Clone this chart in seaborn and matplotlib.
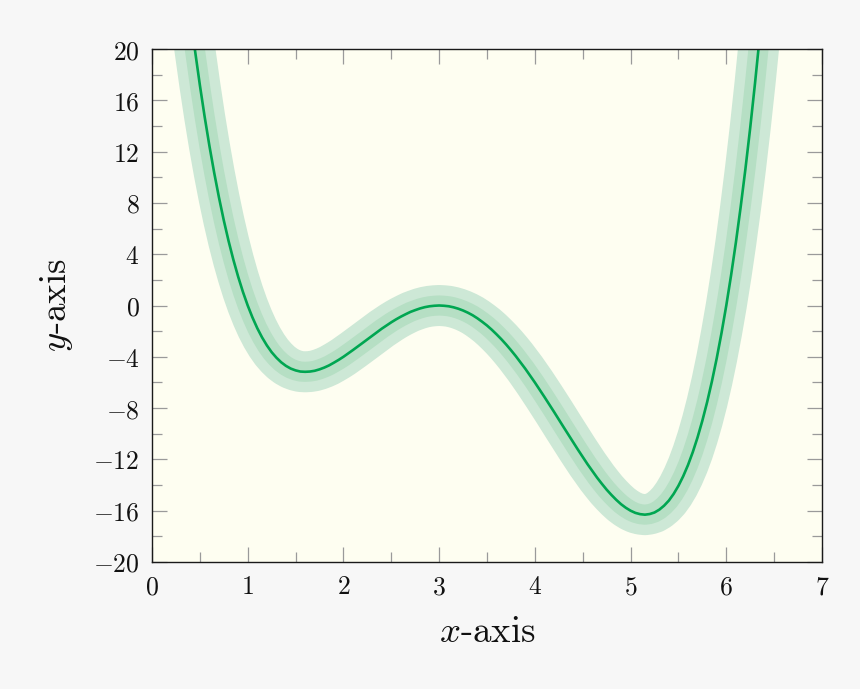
import matplotlib
matplotlib.use('Agg')
import matplotlib.pyplot as plt
from matplotlib.ticker import MultipleLocator, FuncFormatter
import seaborn as sns

# values (every 0.05 along x)
x_vals = [0.20, 0.25, 0.30, 0.35, 0.40, 0.45, 0.50, 0.55, 0.60, 0.65,
          0.70, 0.75, 0.80, 0.85, 0.90, 0.95, 1.00, 1.05, 1.10, 1.15,
          1.20, 1.25, 1.30, 1.35, 1.40, 1.45, 1.50, 1.55, 1.60, 1.65,
          1.70, 1.75, 1.80, 1.85, 1.90, 1.95, 2.00, 2.05, 2.10, 2.15,
          2.20, 2.25, 2.30, 2.35, 2.40, 2.45, 2.50, 2.55, 2.60, 2.65,
          2.70, 2.75, 2.80, 2.85, 2.90, 2.95, 3.00, 3.05, 3.10, 3.15,
          3.20, 3.25, 3.30, 3.35, 3.40, 3.45, 3.50, 3.55, 3.60, 3.65,
          3.70, 3.75, 3.80, 3.85, 3.90, 3.95, 4.00, 4.05, 4.10, 4.15,
          4.20, 4.25, 4.30, 4.35, 4.40, 4.45, 4.50, 4.55, 4.60, 4.65,
          4.70, 4.75, 4.80, 4.85, 4.90, 4.95, 5.00, 5.05, 5.10, 5.15,
          5.20, 5.25, 5.30, 5.35, 5.40, 5.45, 5.50, 5.55, 5.60, 5.65,
          5.70, 5.75, 5.80, 5.85, 5.90, 5.95, 6.00, 6.05, 6.10, 6.15,
          6.20, 6.25, 6.30, 6.35, 6.40, 6.45, 6.50, 6.55, 6.60]
y_vals = [36.38, 32.61, 29.09, 25.79, 22.71, 19.85, 17.19, 14.72, 12.44, 10.34,
          8.41, 6.64, 5.03, 3.57, 2.25, 1.06, 0.00, -0.94, -1.77, -2.49,
          -3.11, -3.64, -4.07, -4.43, -4.71, -4.92, -5.06, -5.15, -5.17, -5.15,
          -5.09, -4.98, -4.84, -4.67, -4.46, -4.24, -4.00, -3.74, -3.47, -3.20,
          -2.92, -2.64, -2.36, -2.08, -1.81, -1.56, -1.31, -1.08, -0.87, -0.68,
          -0.50, -0.36, -0.23, -0.13, -0.06, -0.02, 0.00, -0.02, -0.06, -0.14,
          -0.25, -0.39, -0.56, -0.76, -1.00, -1.27, -1.56, -1.89, -2.25, -2.63,
          -3.04, -3.48, -3.94, -4.43, -4.93, -5.46, -6.00, -6.56, -7.13, -7.71,
          -8.29, -8.89, -9.48, -10.07, -10.66, -11.24, -11.81, -12.37, -12.90, -13.42,
          -13.90, -14.36, -14.77, -15.15, -15.49, -15.77, -16.00, -16.17, -16.27, -16.31,
          -16.26, -16.14, -15.92, -15.61, -15.21, -14.69, -14.06, -13.31, -12.44, -11.43,
          -10.28, -8.98, -7.53, -5.91, -4.12, -2.15, 0.00, 2.35, 4.90, 7.67,
          10.65, 13.86, 17.32, 21.01, 24.97, 29.19, 33.69, 38.47, 43.55]

x_ticks = [0, 1, 2, 3, 4, 5, 6, 7]
y_ticks = [-20, -16, -12, -8, -4, 0, 4, 8, 12, 16, 20]

sns.set_style('ticks')
plt.rcParams['mathtext.fontset'] = 'cm'
plt.rcParams['axes.unicode_minus'] = True

fig = plt.figure(figsize=(8.6, 6.89), dpi=100, facecolor='#f7f7f7')
ax = fig.add_axes([152 / 860, 127 / 689, 670 / 860, 513 / 689])
ax.set_facecolor('#fefef1')

# wide bands first, then the curve itself
sns.lineplot(x=x_vals, y=y_vals, ax=ax, color='#cde8d6', linewidth=29.5,
             sort=False, solid_joinstyle='round', solid_capstyle='butt')
sns.lineplot(x=x_vals, y=y_vals, ax=ax, color='#b6dfc4', linewidth=14.5,
             sort=False, solid_joinstyle='round', solid_capstyle='butt')
sns.lineplot(x=x_vals, y=y_vals, ax=ax, color='#00a651', linewidth=1.9,
             sort=False, solid_joinstyle='round')

ax.set_xlim(0, 7)
ax.set_ylim(-20, 20)
ax.set_xticks(x_ticks)
ax.set_yticks(y_ticks)
ax.xaxis.set_minor_locator(MultipleLocator(0.5))
ax.yaxis.set_minor_locator(MultipleLocator(2))
fmt = FuncFormatter(lambda v, p: r'$%d$' % round(v))
ax.xaxis.set_major_formatter(fmt)
ax.yaxis.set_major_formatter(fmt)

ax.tick_params(which='both', direction='in', top=True, right=True,
               color='#9a9a9a', width=0.9, labelsize=18.5, labelcolor='#111111')
ax.tick_params(which='major', length=10.8, pad=9)
ax.tick_params(which='minor', length=7.2)

for sp in ax.spines.values():
    sp.set_color('#1a1a1a')
    sp.set_linewidth(1.0)

ax.set_xlabel(r'$x$-axis', fontfamily='cmr10', fontsize=26.5, color='#111111',
              labelpad=11)
ax.set_ylabel(r'$y$-axis', fontfamily='cmr10', fontsize=26.5, color='#111111',
              labelpad=13)

fig.savefig('out.png', dpi=100, facecolor=fig.get_facecolor())
